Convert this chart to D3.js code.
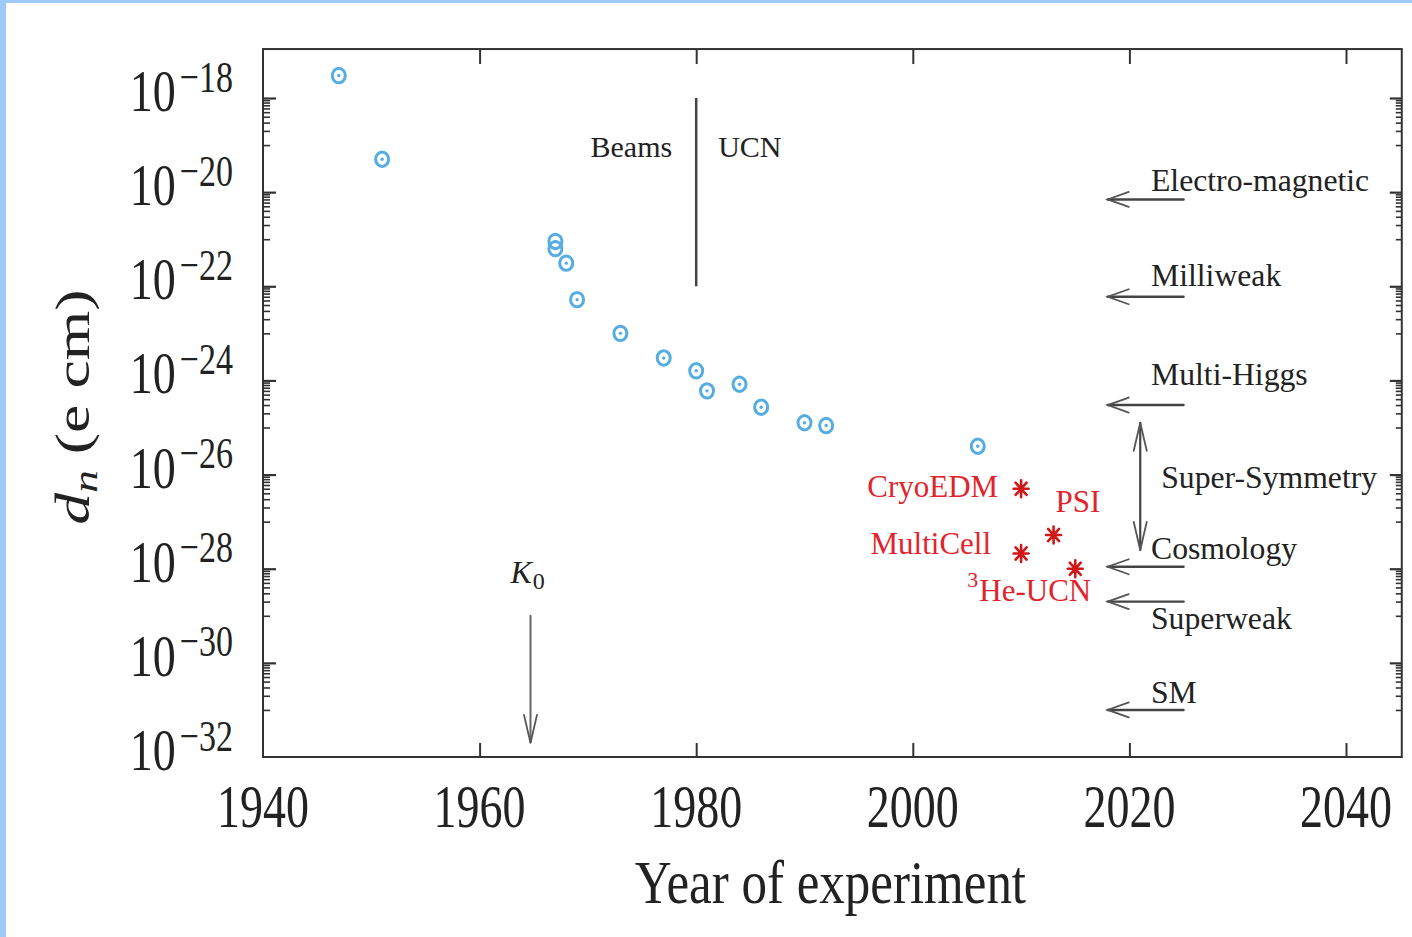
<!DOCTYPE html>
<html><head><meta charset="utf-8">
<script src="https://cdn.jsdelivr.net/npm/d3@7/dist/d3.min.js"></script>
<style>body{margin:0;background:#fff;} svg{display:block;}</style>
</head><body>
<svg id="c" width="1412" height="937"></svg>
<script>
// ---------------- data ----------------
const measYears  = [1947, 1951, 1967, 1967, 1968, 1969, 1973, 1977, 1980, 1981, 1984, 1986, 1990, 1992, 2006];
const measLimits = [3e-18, 5e-20, 9e-22, 6.3e-22, 3.1e-22, 5.2e-23, 1e-23, 3e-24, 1.6e-24, 6e-25, 8.3e-25, 2.7e-25, 1.26e-25, 1.1e-25, 4e-26];
const projNames  = ["CryoEDM", "PSI", "MultiCell", "He-UCN"];
const projYears  = [2010, 2013, 2010, 2015];
const projLimits = [5e-27, 5.2e-28, 2.1e-28, 1e-28];
const theoryNames  = ["Electro-magnetic", "Milliweak", "Multi-Higgs", "Cosmology", "Superweak", "SM"];
const theoryLimits = [7e-21, 6e-23, 3e-25, 1.1e-28, 2e-29, 1e-31];
const theoryArrowYears = [2025, 2018];          // tail, head
const susyLabel = "Super-Symmetry";
const susyYear = 2021;
const susyRange = [1.26e-25, 2.5e-28];
const dividerYear = 1980;
const dividerRange = [1e-18, 1e-22];
const dividerLabels = ["Beams", "UCN"];
const kaonYear = 1964.7;
const kaonRange = [1e-29, 2e-32];
const xTicks = [1940, 1960, 1980, 2000, 2020, 2040];
const yTickExps = [-18, -20, -22, -24, -26, -28, -30, -32];
const xTitle = "Year of experiment";

// ---------------- layout / style ----------------
const FONT = "'Liberation Serif','DejaVu Serif',serif";
const INK = "#222";
const RED = "#e2232b";
const BLUE = "#55ade2";
const theoryLabelDy = [-8, -11, -20, -8, 27, -7];
const projLabelPos = [ // dx, dy, anchor
  [-23, 8, "end"], [2, -23, "start"], [-30, 0, "end"], [16, 32, "end"]
];

const svg = d3.select("#c");
const W = 1412, H = 937;
svg.append("rect").attr("width", W).attr("height", H).attr("fill", "#fff");
svg.append("rect").attr("x", 0).attr("y", 0).attr("width", 6).attr("height", H).attr("fill", "#9dc9fb");
svg.append("rect").attr("x", 0).attr("y", 0).attr("width", W).attr("height", 3).attr("fill", "#9dc9fb");

const x = d3.scaleLinear().domain([1940, 2040]).range([263, 1346]);
const y = d3.scaleLog().domain([1e-18, 1e-32]).range([98, 757]);
const xRight = x(2045.15);
const yTopVal = Math.pow(10, -16.96);
const x0 = x(1940), yB = y(1e-32), yT = y(yTopVal);

// ticks via d3 axes
function styleAxis(g, w) {
  g.select(".domain").remove();
  g.selectAll(".tick line").attr("stroke", "#333").attr("stroke-width", w);
  g.selectAll(".tick text").remove();
}
const topTicks = xTicks.filter(t => t > 1940);
svg.append("g").attr("transform", `translate(0,${yB})`)
  .call(d3.axisBottom(x).tickValues(topTicks).tickSizeInner(-14).tickSizeOuter(0))
  .call(g => styleAxis(g, 2));
svg.append("g").attr("transform", `translate(0,${yT})`)
  .call(d3.axisTop(x).tickValues(topTicks).tickSizeInner(-15).tickSizeOuter(0))
  .call(g => styleAxis(g, 2));

const majorVals = yTickExps.filter(e => e > -32).map(e => Math.pow(10, e));
const minorVals = [];
yTickExps.filter(e => e > -32).forEach(e => {
  for (let k = 1; k <= 9; k++) minorVals.push(k * Math.pow(10, e - 1));
});
[[x0, d3.axisLeft, -13, -7], [xRight, d3.axisRight, -12, -6]].forEach(([px, ax, maj, mn]) => {
  svg.append("g").attr("transform", `translate(${px},0)`)
    .call(ax(y).tickValues(majorVals).tickSizeInner(maj).tickSizeOuter(0))
    .call(g => styleAxis(g, 2.2));
  svg.append("g").attr("transform", `translate(${px},0)`)
    .call(ax(y).tickValues(minorVals).tickSizeInner(mn).tickSizeOuter(0))
    .call(g => styleAxis(g, 1.6));
});

// frame
svg.append("rect").attr("x", x0).attr("y", yT).attr("width", xRight - x0).attr("height", yB - yT)
  .attr("fill", "none").attr("stroke", "#333").attr("stroke-width", 2);

// x tick labels
xTicks.forEach(t => {
  svg.append("text").attr("transform", `translate(${x(t)},${yB + 70}) scale(1,1.33)`)
    .attr("text-anchor", "middle").attr("font-family", FONT).attr("font-size", 46).attr("fill", INK)
    .text(String(t));
});
// y tick labels
yTickExps.forEach(e => {
  const t = svg.append("text").attr("transform", `translate(233,${y(Math.pow(10, e)) + 13}) scale(1,1.3)`)
    .attr("text-anchor", "end").attr("font-family", FONT).attr("fill", INK);
  t.append("tspan").attr("font-size", 46).text("10");
  t.append("tspan").attr("font-size", 34).attr("dy", -15).attr("dx", 4).text("\u2212" + Math.abs(e));
});

// axis titles
svg.append("text").attr("transform", `translate(${(x0 + xRight) / 2 - 2},903) scale(1,1.19)`)
  .attr("text-anchor", "middle").attr("font-family", FONT).attr("font-size", 51).attr("fill", INK)
  .text(xTitle);
const yt = svg.append("text").attr("transform", `translate(89,407) rotate(-90) scale(1.33,1)`)
  .attr("text-anchor", "middle").attr("font-family", FONT).attr("font-size", 48).attr("fill", INK);
yt.append("tspan").attr("font-style", "italic").text("d");
yt.append("tspan").attr("font-style", "italic").attr("font-size", 34).attr("dy", 8).text("n");
yt.append("tspan").attr("dy", -8).text(" (e cm)");

// divider line Beams | UCN
svg.append("line").attr("x1", x(dividerYear)).attr("x2", x(dividerYear))
  .attr("y1", y(dividerRange[0])).attr("y2", y(dividerRange[1]))
  .attr("stroke", "#444").attr("stroke-width", 2.5);
svg.append("text").attr("x", x(dividerYear) - 24).attr("y", y(dividerRange[0]) + 59)
  .attr("text-anchor", "end").attr("font-family", FONT).attr("font-size", 30).attr("fill", INK).text(dividerLabels[0]);
svg.append("text").attr("x", x(dividerYear) + 22).attr("y", y(dividerRange[0]) + 59)
  .attr("text-anchor", "start").attr("font-family", FONT).attr("font-size", 30).attr("fill", INK).text(dividerLabels[1]);

// arrows
const arrowG = svg.append("g").attr("fill", "none").attr("stroke", "#555").attr("stroke-linecap", "round");
function hArrowLeft(xt, xh, yy) {
  arrowG.append("line").attr("x1", xt).attr("x2", xh).attr("y1", yy).attr("y2", yy).attr("stroke-width", 2.4).attr("stroke", "#444");
  arrowG.append("polyline").attr("points", `${xh + 21},${yy - 7.5} ${xh},${yy} ${xh + 21},${yy + 7.5}`).attr("stroke-width", 1.8);
}
function vHead(xx, yy, dir) { // dir=+1 pointing down, -1 pointing up
  arrowG.append("polyline").attr("points", `${xx - 6.5},${yy - dir * 28} ${xx},${yy} ${xx + 6.5},${yy - dir * 28}`).attr("stroke-width", 1.8);
}
theoryLimits.forEach((v, i) => {
  hArrowLeft(x(theoryArrowYears[0]), x(theoryArrowYears[1]), y(v));
  svg.append("text").attr("x", 1151).attr("y", y(v) + theoryLabelDy[i])
    .attr("font-family", FONT).attr("font-size", 31.7).attr("fill", INK).text(theoryNames[i]);
});
// susy double arrow
arrowG.append("line").attr("x1", x(susyYear)).attr("x2", x(susyYear)).attr("y1", y(susyRange[0])).attr("y2", y(susyRange[1]))
  .attr("stroke-width", 2.2).attr("stroke", "#444");
vHead(x(susyYear), y(susyRange[0]), -1);
vHead(x(susyYear), y(susyRange[1]), 1);
svg.append("text").attr("x", x(susyYear) + 21).attr("y", 488)
  .attr("font-family", FONT).attr("font-size", 31.7).attr("fill", INK).text(susyLabel);
// kaon arrow
arrowG.append("line").attr("x1", x(kaonYear)).attr("x2", x(kaonYear)).attr("y1", y(kaonRange[0])).attr("y2", y(kaonRange[1]))
  .attr("stroke-width", 2).attr("stroke", "#666");
vHead(x(kaonYear), y(kaonRange[1]), 1);
const kt = svg.append("text").attr("x", x(kaonYear) - 20).attr("y", y(kaonRange[0]) - 33)
  .attr("font-family", FONT).attr("font-size", 32).attr("fill", INK);
kt.append("tspan").attr("font-style", "italic").text("K");
kt.append("tspan").attr("font-size", 24).attr("dy", 6).attr("dx", 1).text("0");

// measurements
const mG = svg.append("g");
measYears.forEach((yr, i) => {
  const cx = x(yr), cy = y(measLimits[i]);
  mG.append("ellipse").attr("cx", cx).attr("cy", cy).attr("rx", 6.5).attr("ry", 7.2)
    .attr("fill", "none").attr("stroke", BLUE).attr("stroke-width", 3);
  mG.append("circle").attr("cx", cx).attr("cy", cy).attr("r", 1.7).attr("fill", BLUE);
});

// projected experiments
const pG = svg.append("g").attr("stroke", "#d01818").attr("stroke-width", 2.6).attr("stroke-linecap", "round");
projYears.forEach((yr, i) => {
  const cx = x(yr), cy = y(projLimits[i]);
  const a = 7.5, b = 8.5, d = 5.5;
  pG.append("path").attr("d",
    `M${cx - a},${cy}L${cx + a},${cy}M${cx},${cy - b}L${cx},${cy + b}` +
    `M${cx - d},${cy - d * 1.1}L${cx + d},${cy + d * 1.1}M${cx - d},${cy + d * 1.1}L${cx + d},${cy - d * 1.1}`);
  const [dx, dy, anc] = projLabelPos[i];
  const t = svg.append("text").attr("x", cx + dx).attr("y", cy + dy).attr("text-anchor", anc)
    .attr("font-family", FONT).attr("font-size", 31).attr("fill", RED);
  if (projNames[i] === "He-UCN") {
    t.append("tspan").attr("font-size", 22).attr("dy", -14).text("3");
    t.append("tspan").attr("dy", 14).attr("dx", 1).text("He-UCN");
  } else {
    t.text(projNames[i]);
  }
});
</script>
</body></html>
